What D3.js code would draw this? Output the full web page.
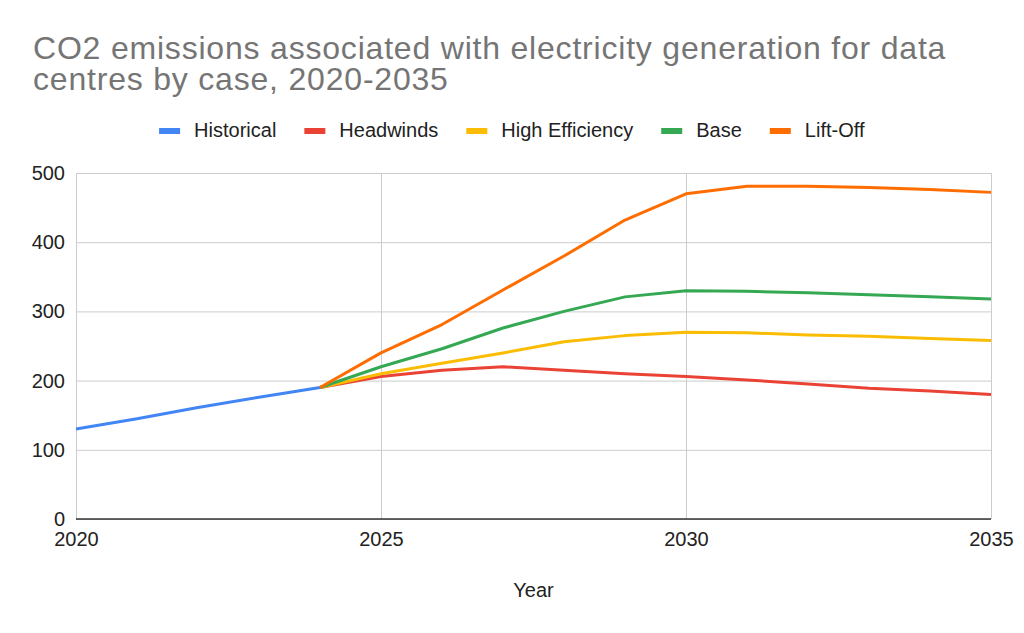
<!DOCTYPE html>
<html>
<head>
<meta charset="utf-8">
<script src="https://cdn.jsdelivr.net/npm/d3@7"></script>
<style>
  body { margin: 0; background: #fff; }
  svg { display: block; font-family: "Liberation Sans", Arial, sans-serif; }
</style>
</head>
<body>
<svg id="chart" width="1024" height="633"></svg>
<script>
// data
let titleLines = ['CO2 emissions associated with electricity generation for data', 'centres by case, 2020-2035']
let seriesNames = ['Historical', 'Headwinds', 'High Efficiency', 'Base', 'Lift-Off']
let seriesColors = ['#4285f4', '#ea4335', '#fbbc04', '#34a853', '#ff6d01']
let histYears = [2020, 2021, 2022, 2023, 2024]
let historical = [130, 145, 161, 176, 190]
let caseYears = [2024, 2025, 2026, 2027, 2028, 2029, 2030, 2031, 2032, 2033, 2034, 2035]
let headwinds = [190, 206, 215, 220, 215, 210, 206, 201, 195, 189, 185, 180]
let highEfficiency = [190, 210, 225, 240, 256, 265, 270, 269, 266, 264, 261, 258]
let base = [190, 220, 246, 276, 300, 321, 330, 329, 327, 324, 321, 318]
let liftOff = [190, 240, 281, 331, 380, 432, 470, 481, 481, 479, 476, 472]
let xTicks = [2020, 2025, 2030, 2035]
let yTicks = [0, 100, 200, 300, 400, 500]

let svg = d3.select('#chart')

// plot area
let plotLeft = 76, plotRight = 991, plotTop = 173, plotBottom = 519

let x = d3.scaleLinear().domain([2020, 2035]).range([plotLeft, plotRight])
let y = d3.scaleLinear().domain([0, 500]).range([plotBottom, plotTop])

// title (two lines like the original)
svg.append('text')
   .attr('fill', '#757575')
   .style('font-size', '32px')
   .style('letter-spacing', '0.8px')
   .selectAll('tspan')
   .data(titleLines)
   .enter()
   .append('tspan')
   .attr('x', 33)
   .attr('y', (d, i) => 59 + i * 31)
   .text(d => d)

// gridlines + tick labels
let yAxis = d3.axisLeft(y).tickValues(yTicks).tickSize(-(plotRight - plotLeft)).tickFormat(d3.format('d'))
let gy = svg.append('g').attr('transform', 'translate(' + plotLeft + ',0)').call(yAxis)
gy.select('.domain').remove()
gy.selectAll('line').attr('stroke', '#cccccc')
gy.selectAll('text')
  .attr('x', -11)
  .attr('fill', '#222')
  .style('font-size', '20px')
  .style('font-family', '"Liberation Sans", Arial, sans-serif')

let xAxis = d3.axisBottom(x).tickValues(xTicks).tickSize(-(plotBottom - plotTop)).tickFormat(d3.format('d'))
let gx = svg.append('g').attr('transform', 'translate(0,' + plotBottom + ')').call(xAxis)
gx.select('.domain').remove()
gx.selectAll('line').attr('stroke', '#cccccc')
gx.selectAll('text')
  .attr('y', 13)
  .attr('fill', '#222')
  .style('font-size', '20px')
  .style('font-family', '"Liberation Sans", Arial, sans-serif')

// baseline at zero
svg.append('line')
   .attr('x1', plotLeft).attr('x2', plotRight)
   .attr('y1', y(0)).attr('y2', y(0))
   .attr('stroke', '#333')
   .attr('stroke-width', 1.5)

// lines
let lineGen = d3.line().x(d => x(d[0])).y(d => y(d[1]))
let allSeries = [
    histYears.map((yr, i) => [yr, historical[i]]),
    caseYears.map((yr, i) => [yr, headwinds[i]]),
    caseYears.map((yr, i) => [yr, highEfficiency[i]]),
    caseYears.map((yr, i) => [yr, base[i]]),
    caseYears.map((yr, i) => [yr, liftOff[i]])
]

svg.append('g')
   .selectAll('path')
   .data(allSeries)
   .enter()
   .append('path')
   .attr('d', d => lineGen(d))
   .attr('fill', 'none')
   .attr('stroke', (d, i) => seriesColors[i])
   .attr('stroke-width', 3)
   .attr('stroke-linejoin', 'round')

// legend, measured then centred
let legend = svg.append('g')
let items = legend.selectAll('g')
                  .data(seriesNames)
                  .enter()
                  .append('g')
items.append('rect')
     .attr('width', 21).attr('height', 6)
     .attr('y', 128)
     .attr('fill', (d, i) => seriesColors[i])
items.append('text')
     .attr('x', 35)
     .attr('y', 137)
     .attr('fill', '#222')
     .style('font-size', '20px')
     .text(d => d)

let pos = 0
items.each(function () {
    let w = this.getBBox().width
    d3.select(this).attr('transform', 'translate(' + pos + ',0)')
    pos += w + 28
})
let total = pos - 28
legend.attr('transform', 'translate(' + (512 - total / 2) + ',0)')

// x axis title
svg.append('text')
   .attr('x', (plotLeft + plotRight) / 2)
   .attr('y', 597)
   .attr('text-anchor', 'middle')
   .attr('fill', '#222')
   .style('font-size', '20px')
   .text('Year')
</script>
</body>
</html>
